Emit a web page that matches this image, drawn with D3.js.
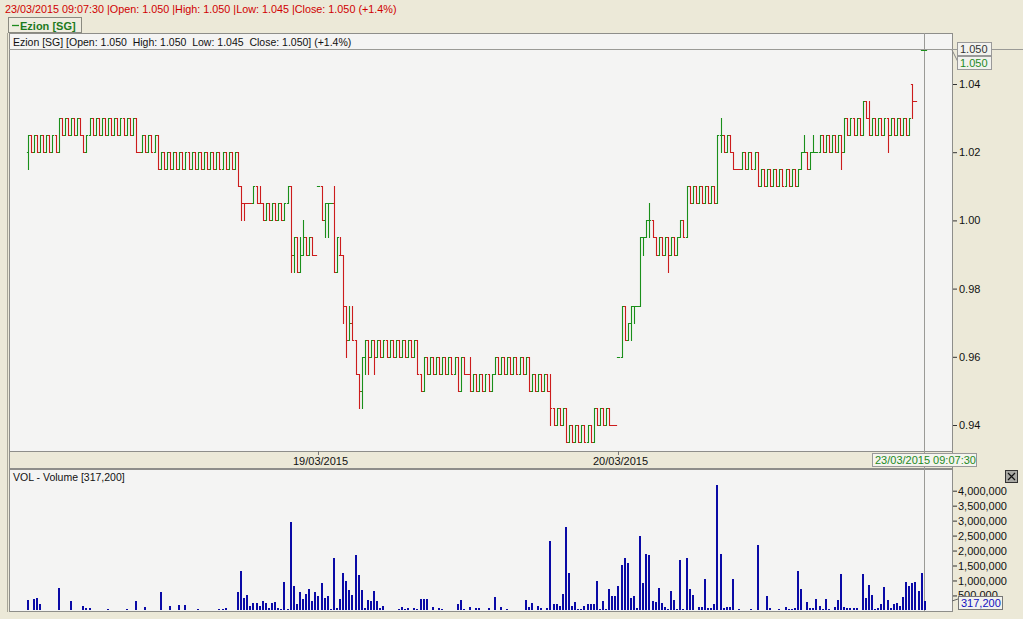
<!DOCTYPE html>
<html><head><meta charset="utf-8">
<script src="https://cdn.jsdelivr.net/npm/d3@7/dist/d3.min.js"></script>
<style>
body{margin:0;background:#ECE9D8;}
svg{display:block;font-family:"Liberation Sans",Arial,sans-serif;}
</style>
</head><body>
<svg id="c" width="1023" height="619"></svg>
<script>
// ---- DATA (5-minute bars, Ezion [SG], 18/03 – 23/03/2015) ----
const openP = [
1.020,1.025,1.020,1.025,1.020,1.025,1.020,1.025,1.020,1.025,
1.020,1.030,1.025,1.030,1.025,1.030,1.025,1.030,1.025,1.020,
1.025,1.030,1.025,1.030,1.025,1.030,1.025,1.030,1.025,1.030,
1.025,1.030,1.025,1.030,1.025,1.030,1.020,1.020,1.025,1.020,
1.025,1.020,1.025,1.015,1.020,1.015,1.020,1.015,1.020,1.015,
1.020,1.015,1.020,1.015,1.020,1.015,1.020,1.015,1.020,1.015,
1.020,1.015,1.020,1.015,1.020,1.015,1.020,1.015,1.020,1.010,
1.005,1.005,1.005,1.005,1.010,1.005,1.005,1.000,1.005,1.000,
1.005,1.000,1.005,1.000,1.005,1.010,0.990,0.995,0.985,0.990,
0.995,0.990,0.995,0.990,1.010,1.010,1.000,1.005,1.005,1.005,
0.985,0.990,0.990,0.975,0.965,0.970,0.965,0.955,0.950,0.960,
0.965,0.960,0.965,0.960,0.965,0.960,0.965,0.960,0.965,0.960,
0.965,0.960,0.965,0.960,0.965,0.960,0.965,0.955,0.950,0.960,
0.955,0.960,0.955,0.960,0.955,0.960,0.955,0.960,0.955,0.960,
0.950,0.960,0.955,0.955,0.950,0.955,0.950,0.955,0.950,0.955,
0.950,0.955,0.960,0.955,0.960,0.955,0.960,0.955,0.960,0.955,
0.960,0.955,0.960,0.950,0.955,0.950,0.955,0.950,0.955,0.950,
0.945,0.940,0.945,0.940,0.945,0.935,0.940,0.935,0.940,0.935,
0.940,0.935,0.940,0.935,0.945,0.940,0.945,0.940,0.945,0.940,
0.940,0.960,0.960,0.975,0.965,0.970,0.975,0.975,0.975,0.995,
0.995,1.000,1.000,0.995,0.990,0.995,0.990,0.995,0.990,0.995,
0.990,0.995,1.000,0.995,1.010,1.005,1.010,1.005,1.010,1.005,
1.010,1.005,1.010,1.005,1.025,1.025,1.020,1.025,1.020,1.015,
1.015,1.015,1.020,1.015,1.020,1.015,1.020,1.010,1.015,1.010,
1.015,1.010,1.015,1.010,1.015,1.010,1.015,1.010,1.015,1.010,
1.015,1.020,1.020,1.015,1.020,1.020,1.020,1.025,1.020,1.025,
1.020,1.025,1.020,1.025,1.020,1.030,1.025,1.030,1.025,1.030,
1.025,1.035,1.030,1.025,1.030,1.025,1.030,1.025,1.030,1.025,
1.030,1.025,1.030,1.025,1.030,1.025,1.040,1.035,null,1.050,
1.050];
const highP = [
1.025,1.025,1.025,1.025,1.025,1.025,1.025,1.025,1.025,1.025,
1.030,1.030,1.030,1.030,1.030,1.030,1.030,1.030,1.025,1.025,
1.030,1.030,1.030,1.030,1.030,1.030,1.030,1.030,1.030,1.030,
1.030,1.030,1.030,1.030,1.030,1.030,1.020,1.025,1.025,1.025,
1.025,1.025,1.025,1.020,1.020,1.020,1.020,1.020,1.020,1.020,
1.020,1.020,1.020,1.020,1.020,1.020,1.020,1.020,1.020,1.020,
1.020,1.020,1.020,1.020,1.020,1.020,1.020,1.020,1.020,1.010,
1.005,1.005,1.005,1.010,1.010,1.010,1.005,1.005,1.005,1.005,
1.005,1.005,1.005,1.005,1.010,1.010,0.995,0.995,0.995,1.000,
0.995,0.995,0.995,0.990,1.010,1.010,1.005,1.005,1.005,1.010,
0.995,0.995,0.990,0.975,0.975,0.975,0.965,0.955,0.960,0.965,
0.965,0.965,0.965,0.965,0.965,0.965,0.965,0.965,0.965,0.965,
0.965,0.965,0.965,0.965,0.965,0.965,0.965,0.955,0.960,0.960,
0.960,0.960,0.960,0.960,0.960,0.960,0.960,0.960,0.960,0.960,
0.960,0.960,0.955,0.960,0.955,0.955,0.955,0.955,0.955,0.955,
0.955,0.960,0.960,0.960,0.960,0.960,0.960,0.960,0.960,0.960,
0.960,0.960,0.960,0.955,0.955,0.955,0.955,0.955,0.955,0.955,
0.945,0.945,0.945,0.945,0.945,0.940,0.940,0.940,0.940,0.940,
0.940,0.940,0.940,0.945,0.945,0.945,0.945,0.945,0.945,0.940,
0.940,0.960,0.975,0.975,0.970,0.975,0.975,0.975,0.995,0.995,
1.000,1.005,1.000,0.995,0.995,0.995,0.995,0.995,0.995,0.995,
0.995,1.000,1.000,1.010,1.010,1.010,1.010,1.010,1.010,1.010,
1.010,1.010,1.010,1.025,1.030,1.025,1.025,1.025,1.020,1.015,
1.015,1.020,1.020,1.020,1.020,1.020,1.020,1.015,1.015,1.015,
1.015,1.015,1.015,1.015,1.015,1.015,1.015,1.015,1.015,1.015,
1.020,1.025,1.020,1.020,1.025,1.020,1.025,1.025,1.025,1.025,
1.025,1.025,1.025,1.025,1.030,1.030,1.030,1.030,1.030,1.030,
1.035,1.035,1.035,1.030,1.030,1.030,1.030,1.030,1.030,1.030,
1.030,1.030,1.030,1.030,1.030,1.030,1.040,1.035,null,1.050,
1.050];
const lowP = [
1.015,1.020,1.020,1.020,1.020,1.020,1.020,1.020,1.020,1.020,
1.020,1.025,1.025,1.025,1.025,1.025,1.025,1.025,1.020,1.020,
1.025,1.025,1.025,1.025,1.025,1.025,1.025,1.025,1.025,1.025,
1.025,1.025,1.025,1.025,1.025,1.020,1.020,1.020,1.020,1.020,
1.020,1.020,1.015,1.015,1.015,1.015,1.015,1.015,1.015,1.015,
1.015,1.015,1.015,1.015,1.015,1.015,1.015,1.015,1.015,1.015,
1.015,1.015,1.015,1.015,1.015,1.015,1.015,1.015,1.010,1.000,
1.000,1.005,1.005,1.005,1.005,1.005,1.000,1.000,1.000,1.000,
1.000,1.000,1.000,1.000,1.005,0.985,0.985,0.985,0.985,0.990,
0.990,0.990,0.990,0.990,1.010,1.000,0.995,0.995,1.005,0.985,
0.985,0.990,0.970,0.960,0.965,0.965,0.955,0.945,0.945,0.955,
0.955,0.960,0.955,0.960,0.960,0.960,0.960,0.960,0.960,0.960,
0.960,0.960,0.960,0.960,0.960,0.960,0.955,0.950,0.950,0.955,
0.955,0.955,0.955,0.955,0.955,0.955,0.955,0.955,0.955,0.950,
0.950,0.955,0.955,0.950,0.950,0.950,0.950,0.950,0.950,0.950,
0.950,0.955,0.955,0.955,0.955,0.955,0.955,0.955,0.955,0.955,
0.955,0.955,0.950,0.950,0.950,0.950,0.950,0.950,0.950,0.940,
0.940,0.940,0.940,0.940,0.935,0.935,0.935,0.935,0.935,0.935,
0.935,0.935,0.935,0.935,0.940,0.940,0.940,0.940,0.940,0.940,
0.940,0.960,0.960,0.965,0.965,0.965,0.970,0.975,0.975,0.990,
0.995,0.995,0.995,0.990,0.990,0.990,0.990,0.985,0.990,0.990,
0.990,0.995,0.995,0.995,1.005,1.005,1.005,1.005,1.005,1.005,
1.005,1.005,1.005,1.005,1.020,1.020,1.020,1.020,1.015,1.015,
1.015,1.015,1.015,1.015,1.015,1.015,1.010,1.010,1.010,1.010,
1.010,1.010,1.010,1.010,1.010,1.010,1.010,1.010,1.010,1.010,
1.015,1.020,1.015,1.015,1.020,1.020,1.020,1.020,1.020,1.020,
1.020,1.020,1.020,1.015,1.020,1.025,1.025,1.025,1.025,1.025,
1.025,1.030,1.025,1.025,1.025,1.025,1.025,1.025,1.020,1.025,
1.025,1.025,1.025,1.025,1.025,1.025,1.030,1.035,null,1.050,
1.050];
const closeP = [
1.025,1.020,1.025,1.020,1.025,1.020,1.025,1.020,1.025,1.020,
1.030,1.025,1.030,1.025,1.030,1.025,1.030,1.025,1.020,1.025,
1.030,1.025,1.030,1.025,1.030,1.025,1.030,1.025,1.030,1.025,
1.030,1.025,1.030,1.025,1.030,1.020,1.020,1.025,1.020,1.025,
1.020,1.025,1.015,1.020,1.015,1.020,1.015,1.020,1.015,1.020,
1.015,1.020,1.015,1.020,1.015,1.020,1.015,1.020,1.015,1.020,
1.015,1.020,1.015,1.020,1.015,1.020,1.015,1.020,1.010,1.005,
1.005,1.005,1.005,1.010,1.005,1.005,1.000,1.005,1.000,1.005,
1.000,1.005,1.000,1.005,1.010,0.990,0.995,0.985,0.990,0.995,
0.990,0.995,0.990,0.990,1.010,1.000,1.005,1.005,1.005,0.985,
0.995,0.990,0.975,0.965,0.970,0.965,0.955,0.950,0.960,0.965,
0.960,0.965,0.960,0.965,0.960,0.965,0.960,0.965,0.960,0.965,
0.960,0.965,0.960,0.965,0.960,0.965,0.955,0.950,0.960,0.955,
0.960,0.955,0.960,0.955,0.960,0.955,0.960,0.955,0.960,0.950,
0.960,0.955,0.955,0.950,0.955,0.950,0.955,0.950,0.955,0.950,
0.955,0.960,0.955,0.960,0.955,0.960,0.955,0.960,0.955,0.960,
0.955,0.960,0.950,0.955,0.950,0.955,0.950,0.955,0.950,0.945,
0.940,0.945,0.940,0.945,0.935,0.940,0.935,0.940,0.935,0.940,
0.935,0.940,0.935,0.945,0.940,0.945,0.940,0.945,0.940,0.940,
0.940,0.960,0.975,0.965,0.970,0.975,0.975,0.975,0.995,0.995,
1.000,1.000,0.995,0.990,0.995,0.990,0.995,0.990,0.995,0.990,
0.995,1.000,0.995,1.010,1.005,1.010,1.005,1.010,1.005,1.010,
1.005,1.010,1.005,1.025,1.025,1.020,1.025,1.020,1.015,1.015,
1.015,1.020,1.015,1.020,1.015,1.020,1.010,1.015,1.010,1.015,
1.010,1.015,1.010,1.015,1.010,1.015,1.010,1.015,1.010,1.015,
1.020,1.020,1.015,1.020,1.020,1.020,1.025,1.020,1.025,1.020,
1.025,1.020,1.025,1.020,1.030,1.025,1.030,1.025,1.030,1.025,
1.035,1.030,1.025,1.030,1.025,1.030,1.025,1.030,1.025,1.030,
1.025,1.030,1.025,1.030,1.025,1.030,1.035,1.035,null,1.050,
1.050];
const volume = [
350000,0,380000,410000,200000,0,0,0,0,0,
750000,0,0,0,310000,0,0,0,160000,80000,
80000,0,0,0,0,0,60000,0,0,0,
0,0,60000,0,0,300000,0,0,100000,0,
0,0,0,600000,0,0,150000,0,0,170000,
0,190000,0,0,0,60000,0,0,0,0,
0,0,60000,60000,80000,0,0,0,620000,1310000,
430000,500000,140000,250000,240000,140000,330000,250000,90000,240000,
270000,70000,60000,950000,60000,2970000,810000,200000,610000,380000,
550000,730000,310000,610000,480000,910000,420000,480000,60000,1750000,
80000,380000,1240000,990000,680000,510000,1840000,1180000,680000,80000,
350000,320000,650000,320000,80000,150000,0,0,0,0,
40000,120000,60000,80000,0,80000,60000,380000,380000,380000,
0,120000,0,80000,60000,0,0,0,0,200000,
350000,60000,0,120000,0,80000,80000,0,0,80000,
0,450000,0,120000,0,60000,0,0,0,0,
0,350000,120000,240000,0,150000,80000,0,80000,2310000,
200000,200000,150000,540000,2800000,1240000,150000,270000,60000,60000,
150000,200000,200000,200000,990000,60000,320000,60000,700000,480000,
480000,810000,1510000,1760000,1570000,420000,480000,80000,2470000,910000,
1900000,1840000,320000,280000,750000,240000,120000,60000,650000,350000,
60000,1700000,60000,1740000,700000,510000,0,120000,120000,1050000,
80000,80000,200000,4200000,1880000,80000,120000,120000,1050000,0,
60000,0,0,0,40000,0,2200000,0,0,480000,
80000,0,0,40000,0,120000,60000,60000,80000,1310000,
700000,0,280000,80000,80000,380000,150000,60000,380000,40000,
0,120000,350000,1200000,120000,80000,80000,80000,80000,0,
1220000,410000,850000,510000,60000,80000,200000,780000,350000,80000,
200000,240000,150000,450000,950000,810000,900000,950000,650000,1250000,
317200];
const priceTicks = [0.94, 0.96, 0.98, 1.00, 1.02, 1.04];
const volumeTicks = [500000,1000000,1500000,2000000,2500000,3000000,3500000,4000000];
const dayStartIndex = [94, 191];
const dayLabels = ["19/03/2015", "20/03/2015"];
const lastPrice = 1.050;
const lastVolume = 317200;
const headerText = "23/03/2015 09:07:30 |Open: 1.050 |High: 1.050 |Low: 1.045 |Close: 1.050 (+1.4%)";
const titleText = "Ezion [SG] [Open: 1.050  High: 1.050  Low: 1.045  Close: 1.050] (+1.4%)";
const legendText = "Ezion [SG]";
const volTitle = "VOL - Volume [317,200]";
const cursorTime = "23/03/2015 09:07:30";

// ---- DRAW ----
const svg = d3.select("#c");
const N = closeP.length;
const PL = 9, PR = 952, PT = 33, PB = 451, VT = 469, VB = 611;
const x = d3.scaleLinear().domain([0, N - 1]).range([27.7, 924.7]);
const yP = d3.scaleLinear().domain([0.94, 1.04]).range([425, 84]);
const yV = d3.scaleLinear().domain([0, 4000000]).range([610.4, 490.7]);

svg.append("rect").attr("width", 1023).attr("height", 619).attr("fill", "#ECE9D8");

// header
svg.append("text").attr("x", 5).attr("y", 13).attr("fill", "#D00000")
  .attr("font-size", 10.8).text(headerText);

// legend box
svg.append("rect").attr("x", 8.5).attr("y", 17.5).attr("width", 73).attr("height", 15)
  .attr("fill", "#EFEDE0").attr("stroke", "#8A8A80");
svg.append("line").attr("x1", 12).attr("x2", 19).attr("y1", 25.5).attr("y2", 25.5)
  .attr("stroke", "#1E8A1E").attr("stroke-width", 1.3);
svg.append("text").attr("x", 20).attr("y", 29.5).attr("fill", "#1E7A1E")
  .attr("font-size", 11).attr("font-weight", "bold").text(legendText);

// panels
svg.append("rect").attr("x", PL + 0.5).attr("y", PT + 0.5).attr("width", PR - PL).attr("height", PB - PT)
  .attr("fill", "#F4F4F3").attr("stroke", "#8E8E8A");
svg.append("rect").attr("x", PL + 0.5).attr("y", PB + 0.5).attr("width", PR - PL).attr("height", VT - PB - 1)
  .attr("fill", "#ECE9D8").attr("stroke", "#8E8E8A");
svg.append("rect").attr("x", PL + 0.5).attr("y", VT + 0.5).attr("width", PR - PL).attr("height", VB - VT)
  .attr("fill", "#F4F4F3").attr("stroke", "#8E8E8A");
svg.append("line").attr("x1", 7.5).attr("x2", 7.5).attr("y1", PT).attr("y2", VB + 1).attr("stroke", "#A8A698");

svg.append("text").attr("x", 13).attr("y", 46).attr("font-size", 10.5).attr("fill", "#111")
  .style("white-space", "pre").text(titleText);
svg.append("text").attr("x", 13).attr("y", 481).attr("font-size", 10.5).attr("fill", "#111")
  .text(volTitle);

// clip
svg.append("clipPath").attr("id", "pclip").append("rect")
  .attr("x", PL + 1).attr("y", PT + 1).attr("width", PR - PL - 1).attr("height", PB - PT - 1);

// crosshair
const cx = Math.round(x(N - 1)) - 0.5;
svg.append("line").attr("x1", PL).attr("x2", 1023).attr("y1", Math.round(yP(lastPrice)) - 0.5)
  .attr("y2", Math.round(yP(lastPrice)) - 0.5).attr("stroke", "#9A9A96");
svg.append("line").attr("x1", cx).attr("x2", cx).attr("y1", PT).attr("y2", VB)
  .attr("stroke", "#9A9A96");

// OHLC bars
const GREEN = "#1A8F1A", RED = "#CC1C1C";
let prevColor = GREEN, prevClose = null;
const bars = [];
for (let i = 0; i < N; i++) {
  if (openP[i] == null) continue;
  let col;
  if (closeP[i] > openP[i]) col = GREEN;
  else if (closeP[i] < openP[i]) col = RED;
  else if (prevClose != null && closeP[i] > prevClose) col = GREEN;
  else if (prevClose != null && closeP[i] < prevClose) col = RED;
  else col = prevColor;
  prevColor = col; prevClose = closeP[i];
  bars.push({i, o: openP[i], h: highP[i], l: lowP[i], c: closeP[i], col});
}
const pg = svg.append("g").attr("clip-path", "url(#pclip)");
pg.selectAll("path.bar").data(bars).join("path").attr("class", "bar")
  .attr("fill", "none").attr("stroke", d => d.col).attr("stroke-width", 1.1)
  .attr("d", d => {
    const xc = Math.round(x(d.i)) + 0.5;
    const yo = Math.round(yP(d.o)) + 0.5, yc = Math.round(yP(d.c)) + 0.5;
    const yh = Math.round(yP(d.h)) + 0.5, yl = Math.round(yP(d.l)) + 0.5;
    return `M${xc - 1.6},${yo}H${xc}M${xc},${yh - 0.5}V${yl + 0.5}M${xc},${yc}H${xc + 1.6}`;
  });

// volume bars
svg.append("g").selectAll("rect").data(volume.map((v, i) => ({v, i})).filter(d => d.v > 0))
  .join("rect")
  .attr("x", d => Math.round(x(d.i)) - 1).attr("width", 2)
  .attr("y", d => Math.round(yV(d.v))).attr("height", d => Math.max(1, Math.round(yV(0)) - Math.round(yV(d.v))))
  .attr("fill", "#0A0AA6");

// price axis
const pa = svg.append("g").attr("transform", `translate(${PR + 1},0)`)
  .call(d3.axisRight(yP).tickValues(priceTicks).tickFormat(d3.format(".2f")).tickSize(4).tickPadding(2));
pa.select(".domain").remove();
pa.selectAll("text").attr("font-size", 11).attr("fill", "#111").attr("font-family", "Liberation Sans, Arial, sans-serif");
pa.selectAll("line").attr("stroke", "#333");

// volume axis
const va = svg.append("g").attr("transform", `translate(${PR + 1},0)`)
  .call(d3.axisRight(yV).tickValues(volumeTicks).tickFormat(d3.format(",")).tickSize(4).tickPadding(1));
va.select(".domain").remove();
va.selectAll("text").attr("font-size", 11).attr("fill", "#111").attr("font-family", "Liberation Sans, Arial, sans-serif");
va.selectAll("line").attr("stroke", "#333");

// date axis
const dg = svg.append("g");
dayStartIndex.forEach((di, k) => {
  const tx = Math.round(x(di)) + 0.5;
  dg.append("line").attr("x1", tx).attr("x2", tx).attr("y1", PB).attr("y2", PB + 4).attr("stroke", "#777");
  dg.append("text").attr("x", tx + 2).attr("y", 465).attr("text-anchor", "middle")
    .attr("font-size", 11).attr("fill", "#111").text(dayLabels[k]);
});

// last price labels
const ly = Math.round(yP(lastPrice));
svg.append("line").attr("x1", PR).attr("y1", ly).attr("x2", 958).attr("y2", ly + 12).attr("stroke", "#888");
svg.append("rect").attr("x", 957.5).attr("y", ly - 7.5).attr("width", 34).attr("height", 13)
  .attr("fill", "#F2F2EE").attr("stroke", "#999");
svg.append("text").attr("x", 960).attr("y", ly + 3).attr("font-size", 11).attr("fill", "#333")
  .text(d3.format(".3f")(lastPrice));
svg.append("rect").attr("x", 957.5).attr("y", ly + 6.5).attr("width", 34).attr("height", 13)
  .attr("fill", "#F2F2EE").attr("stroke", "#999");
svg.append("text").attr("x", 960).attr("y", ly + 17).attr("font-size", 11).attr("fill", "#1E8A1E")
  .text(d3.format(".3f")(lastPrice));

// cursor time label
svg.append("rect").attr("x", 872.5).attr("y", 453.5).attr("width", 104).attr("height", 13)
  .attr("fill", "#F4F4EE").attr("stroke", "#999");
svg.append("text").attr("x", 875).attr("y", 464).attr("font-size", 11).attr("fill", "#1E8A1E").text(cursorTime);

// last volume label (drawn over the lowest axis label, as in the original)
const lvy = Math.round(yV(lastVolume));
svg.append("line").attr("x1", PR).attr("y1", lvy).attr("x2", 958).attr("y2", lvy - 2).attr("stroke", "#666");
svg.append("rect").attr("x", 958.5).attr("y", 596.5).attr("width", 44).attr("height", 13)
  .attr("fill", "#F2F2EE").attr("stroke", "#777");
svg.append("text").attr("x", 961).attr("y", 607).attr("font-size", 11).attr("fill", "#1010C0")
  .text(d3.format(",")(lastVolume));

// close button
svg.append("rect").attr("x", 1005.5).attr("y", 470.5).attr("width", 12).attr("height", 12)
  .attr("fill", "#A9A9A4").attr("stroke", "#333");
svg.append("path").attr("d", "M1008,473L1015,480M1015,473L1008,480").attr("stroke", "#111").attr("stroke-width", 1.2);
</script>
</body></html>
